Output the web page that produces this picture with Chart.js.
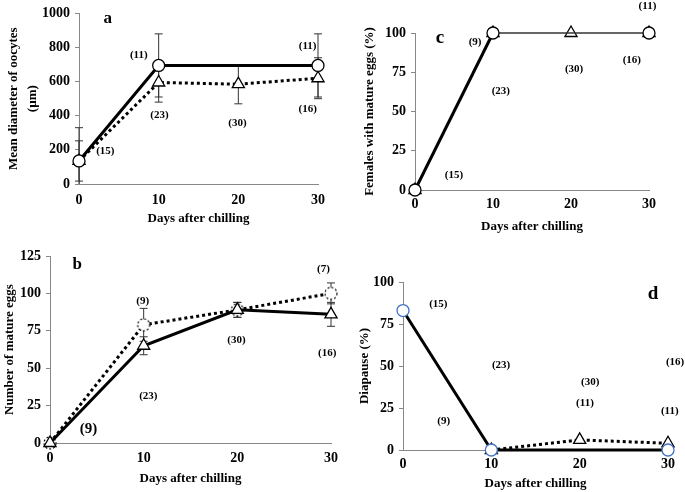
<!DOCTYPE html>
<html>
<head>
<meta charset="utf-8">
<script src="https://cdn.jsdelivr.net/npm/chart.js@4.4.1/dist/chart.umd.min.js"></script>
<style>
  body { margin: 0; background: #fff; width: 685px; height: 492px; position: relative; overflow: hidden; }
  .panel { position: absolute; }
</style>
</head>
<body>
<div class="panel" style="left:0;top:0;width:340px;height:230px"><canvas id="chartA"></canvas></div>
<div class="panel" style="left:340px;top:0;width:345px;height:240px"><canvas id="chartC"></canvas></div>
<div class="panel" style="left:0;top:240px;width:345px;height:252px"><canvas id="chartB"></canvas></div>
<div class="panel" style="left:340px;top:260px;width:345px;height:232px"><canvas id="chartD"></canvas></div>
<script>
const days = [0, 10, 20, 30];

// a: mean diameter of oocytes
const aCircle = [135, 695, null, 695];
const aCircleErr = [195, 185, null, 185];
const aTriangle = [135, 595, 585, 620];
const aTriangleErr = [118, 115, 115, 120];
const aNotes = [["a", 3.6, 970, 17], ["(15)", 3.3, 192, 11], ["(11)", 7.5, 757, 11], ["(23)", 10.1, 406, 11],
  ["(30)", 19.9, 358, 11], ["(11)", 28.7, 808, 11], ["(16)", 28.7, 440, 11]];

// b: number of mature eggs
const bTriangle = [0, 65, 89, 86];
const bTriangleErr = [0, 6, 5, 8];
const bCircle = [0, 79, 89, 100];
const bCircleErr = [0, 11, 5, 7];
const bNotes = [["b", 2.9, 119, 17], ["(9)", 9.9, 95, 11], ["(7)", 29.2, 116, 11], ["(30)", 19.9, 69, 11],
  ["(16)", 29.6, 60, 11], ["(23)", 10.5, 31, 11], ["(9)", 4.1, 9, 15]];

// c: females with mature eggs (%)
const cCircle = [0, 100, null, 100];
const cTriangle = [0, 100, 100, 100];
const cNotes = [["c", 3.2, 97, 19], ["(11)", 29.8, 117, 11], ["(9)", 7.7, 94, 11], ["(30)", 20.4, 77, 11],
  ["(16)", 27.8, 82.6, 11], ["(23)", 11, 63, 11], ["(15)", 5, 9.5, 11]];

// d: diapause (%)
const dCircle = [83, 0, null, 0];
const dTriangle = [null, 0, 6, 4];
const dNotes = [["d", 28.3, 93, 19], ["(15)", 4, 87, 11], ["(23)", 11.1, 50.5, 11], ["(30)", 21.2, 40.6, 11],
  ["(11)", 20.6, 27.7, 11], ["(16)", 30.8, 52.5, 11], ["(11)", 30.2, 23.4, 11], ["(9)", 4.6, 17.4, 11]];

const FONT = "'Liberation Serif', 'Times New Roman', serif";

function toPoints(values) {
  return days.map((d, i) => ({ x: d, y: values[i] }));
}

// dotted circle marker for panel b
const dashedCircle = document.createElement("canvas");
dashedCircle.width = 16;
dashedCircle.height = 16;
(function () {
  const c = dashedCircle.getContext("2d");
  c.beginPath();
  c.arc(8, 8, 6, 0, Math.PI * 2);
  c.fillStyle = "#fff";
  c.fill();
  c.setLineDash([2, 2]);
  c.lineWidth = 1.2;
  c.strokeStyle = "#000";
  c.stroke();
})();

const errorBars = {
  id: "errorBars",
  beforeDatasetsDraw(chart) {
    const ctx = chart.ctx;
    const xs = chart.scales.x, ys = chart.scales.y;
    ctx.save();
    ctx.strokeStyle = "#333";
    ctx.lineWidth = 1;
    chart.data.datasets.forEach(ds => {
      if (!ds.errors) return;
      ds.data.forEach((p, i) => {
        const e = ds.errors[i];
        if (p.y === null || !e) return;
        const px = xs.getPixelForValue(p.x);
        const top = ys.getPixelForValue(Math.min(p.y + e, ys.max));
        const bot = ys.getPixelForValue(Math.max(p.y - e, ys.min));
        ctx.beginPath();
        ctx.moveTo(px, top); ctx.lineTo(px, bot);
        ctx.moveTo(px - 4, top); ctx.lineTo(px + 4, top);
        if (p.y - e > ys.min) { ctx.moveTo(px - 4, bot); ctx.lineTo(px + 4, bot); }
        ctx.stroke();
      });
    });
    ctx.restore();
  }
};

const notesPlugin = {
  id: "notes",
  afterDraw(chart, args, opts) {
    const ctx = chart.ctx;
    ctx.save();
    ctx.fillStyle = "#000";
    ctx.textAlign = "center";
    ctx.textBaseline = "middle";
    (opts.items || []).forEach(([text, x, y, size]) => {
      ctx.font = `bold ${size}px ${FONT}`;
      ctx.fillText(text, chart.scales.x.getPixelForValue(x), chart.scales.y.getPixelForValue(y));
    });
    ctx.restore();
  }
};

function solid(values, extra) {
  return Object.assign({
    data: toPoints(values), borderColor: "#000", borderWidth: 3, spanGaps: true,
    pointStyle: "circle", pointRadius: 6, pointBorderWidth: 1.3,
    pointBackgroundColor: "#fff", pointBorderColor: "#000", clip: false
  }, extra);
}

function dotted(values, extra) {
  return Object.assign({
    data: toPoints(values), borderColor: "#000", borderWidth: 3, borderDash: [3, 3], spanGaps: true,
    pointStyle: "triangle", pointRadius: 7, pointBorderWidth: 1.3,
    pointBackgroundColor: "#fff", pointBorderColor: "#000", clip: false
  }, extra);
}

function buildChart(id, p) {
  const tickFont = { family: FONT, size: 14, weight: "bold" };
  const titleFont = { family: FONT, size: 13, weight: "bold" };
  return new Chart(document.getElementById(id), {
    type: "line",
    data: { datasets: p.datasets },
    options: {
      responsive: true,
      maintainAspectRatio: false,
      animation: false,
      layout: { padding: { left: 0, right: p.padRight, top: p.padTop, bottom: 0 } },
      plugins: { legend: { display: false }, tooltip: { enabled: false }, notes: { items: p.notes } },
      scales: {
        x: {
          type: "linear", min: 0, max: 30,
          ticks: { stepSize: 10, padding: p.xTickPad, color: "#000", font: tickFont },
          grid: { display: false, drawTicks: false },
          border: { color: "#888", width: 1 },
          title: { display: true, text: "Days after chilling", color: "#000", font: titleFont,
            padding: { top: 0, bottom: p.xTitlePad } },
          afterFit: s => { s.height = p.xHeight; }
        },
        y: {
          type: "linear", min: p.yMin, max: p.yMax,
          ticks: { stepSize: p.yStep, padding: 5, color: "#000", font: tickFont, callback: v => String(v) },
          grid: { drawOnChartArea: false, tickLength: 4, color: "#888" },
          border: { color: "#888", width: 1 },
          title: { display: true, text: p.yTitle, color: "#000",
            font: { family: FONT, size: 13, weight: "bold", lineHeight: 1.45 },
            padding: { top: p.yTitlePad, bottom: 0 } },
          afterFit: s => { s.width = p.yWidth; }
        }
      }
    },
    plugins: [errorBars, notesPlugin]
  });
}

buildChart("chartA", {
  yMin: 0, yMax: 1000, yStep: 200, yTitle: ["Mean diameter of oocytes", "(µm)"],
  yWidth: 79, yTitlePad: 4, padRight: 22, padTop: 10, xHeight: 46, xTickPad: 8, xTitlePad: 4,
  notes: aNotes,
  datasets: [
    solid(aCircle, { errors: aCircleErr }),
    dotted(aTriangle, { errors: aTriangleErr })
  ]
});

buildChart("chartC", {
  yMin: 0, yMax: 100, yStep: 25, yTitle: "Females with mature eggs (%)",
  yWidth: 75, yTitlePad: 20, padRight: 36, padTop: 33, xHeight: 50, xTickPad: 6, xTitlePad: 6,
  notes: cNotes,
  datasets: [
    solid(cCircle, { segment: { borderWidth: ctx => ctx.p0DataIndex >= 1 ? 1.5 : 3,
      borderColor: ctx => ctx.p0DataIndex >= 1 ? "#333" : "#000" } }),
    dotted(cTriangle, { showLine: false })
  ]
});

buildChart("chartB", {
  yMin: 0, yMax: 125, yStep: 25, yTitle: "Number of mature eggs",
  yWidth: 50, yTitlePad: 0, padRight: 13, padTop: 16, xHeight: 49, xTickPad: 7, xTitlePad: 6,
  notes: bNotes,
  datasets: [
    solid(bTriangle, { errors: bTriangleErr, pointStyle: "triangle", pointRadius: 7 }),
    dotted(bCircle, { errors: bCircleErr, pointStyle: dashedCircle })
  ]
});

buildChart("chartD", {
  yMin: 0, yMax: 100, yStep: 25, yTitle: "Diapause (%)",
  yWidth: 63, yTitlePad: 15, padRight: 17, padTop: 22, xHeight: 42, xTickPad: 6, xTitlePad: 1,
  notes: dNotes,
  datasets: [
    solid(dCircle, { pointBorderColor: "#4472C4" }),
    dotted(dTriangle)
  ]
});
</script>
</body>
</html>
